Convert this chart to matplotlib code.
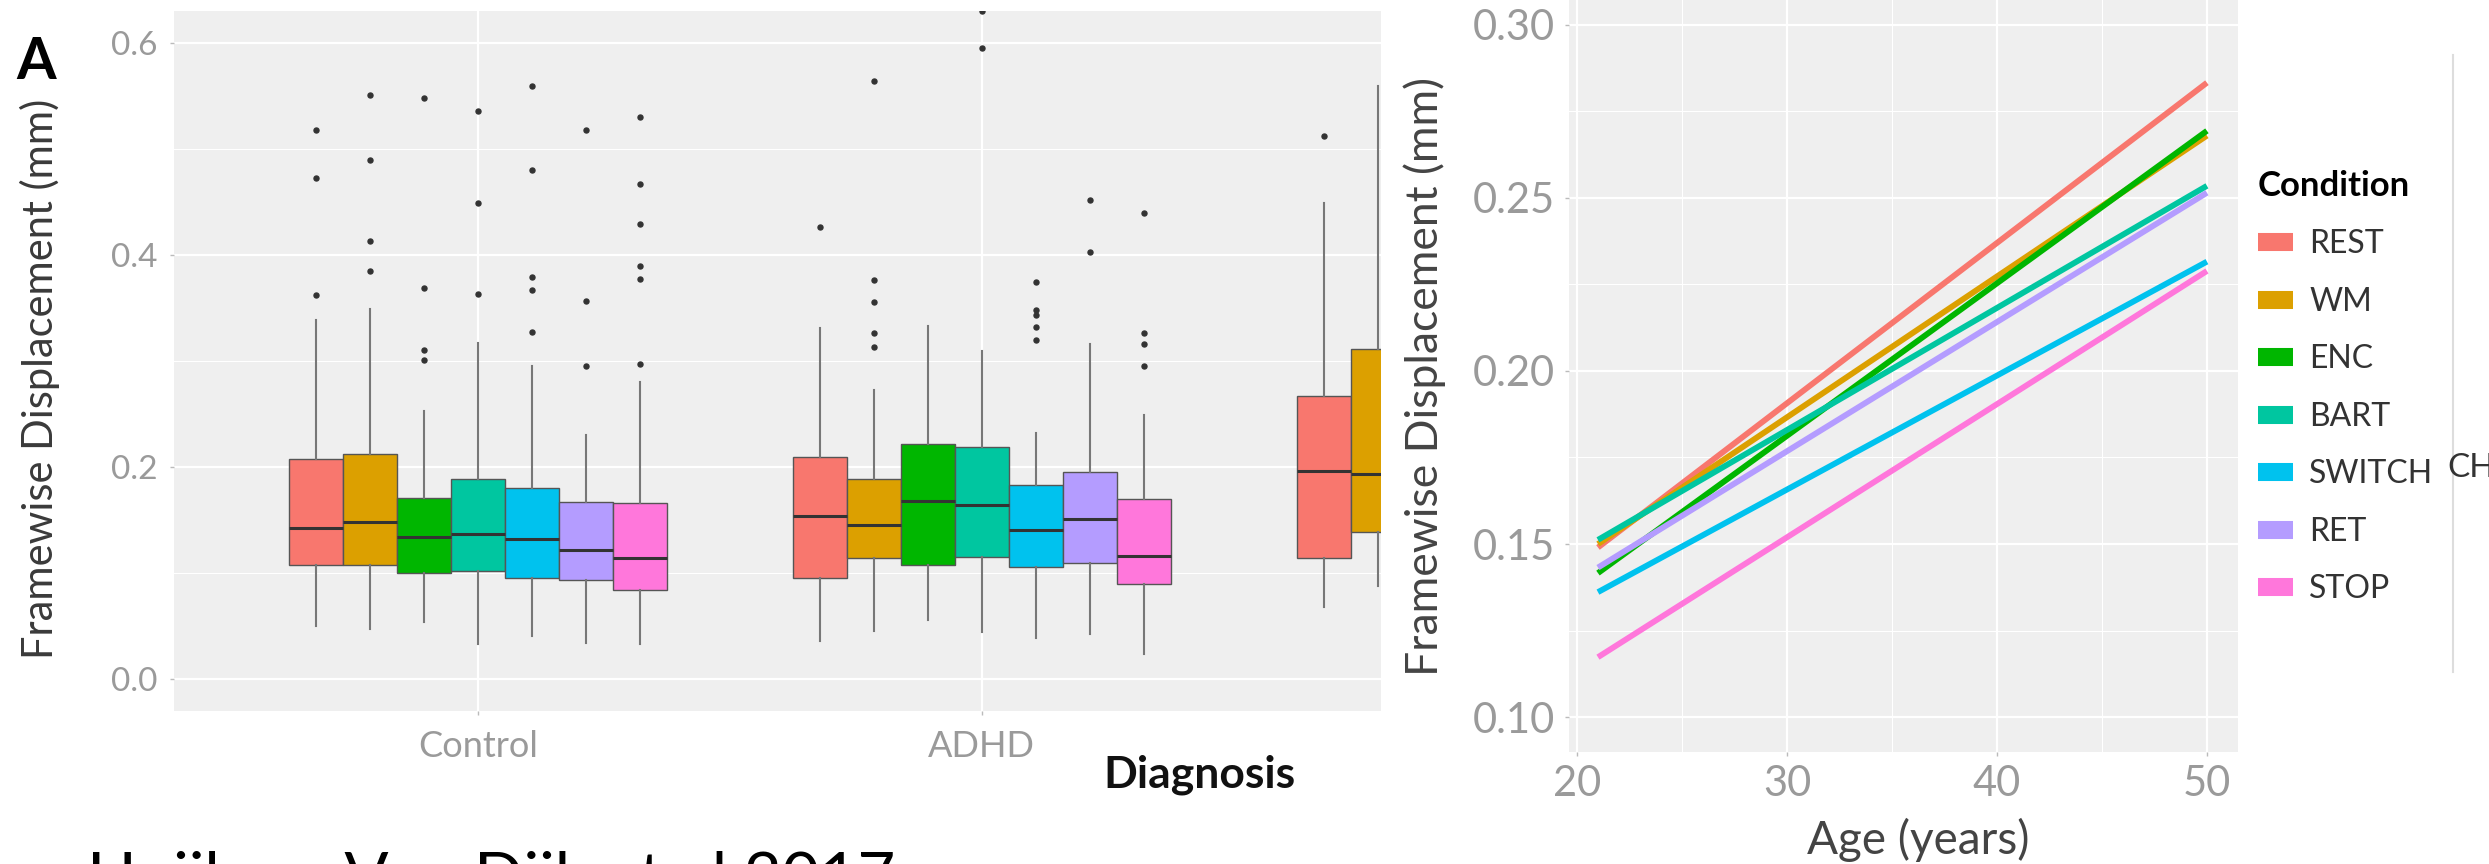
import numpy as np
import matplotlib.pyplot as plt
from matplotlib.lines import Line2D

plt.rcParams['font.family'] = ['Lato', 'DejaVu Sans']

W, H = 2489, 864

conditions = ['REST', 'WM', 'ENC', 'BART', 'SWITCH', 'RET', 'STOP']
colors = ['#F8776E', '#DCA000', '#00B600', '#00C6A0', '#00C2EE', '#B49CFF', '#FF77DB']
diagnoses = ['Control', 'ADHD', 'Bipolar']

# panel A, box statistics per condition
control_q1 = [0.108, 0.108, 0.100, 0.102, 0.095, 0.093, 0.084]
control_med = [0.142, 0.148, 0.134, 0.137, 0.132, 0.122, 0.114]
control_q3 = [0.208, 0.212, 0.171, 0.189, 0.180, 0.167, 0.166]
control_lo = [0.050, 0.047, 0.054, 0.033, 0.041, 0.034, 0.033]
control_hi = [0.339, 0.349, 0.253, 0.317, 0.295, 0.230, 0.280]
control_out = [[0.518, 0.473, 0.362],
               [0.551, 0.490, 0.413, 0.385],
               [0.548, 0.369, 0.310, 0.301],
               [0.536, 0.449, 0.363],
               [0.559, 0.480, 0.379, 0.367, 0.327],
               [0.518, 0.357, 0.295],
               [0.530, 0.467, 0.429, 0.390, 0.377, 0.297]]

adhd_q1 = [0.095, 0.114, 0.108, 0.115, 0.106, 0.109, 0.090]
adhd_med = [0.154, 0.145, 0.168, 0.164, 0.141, 0.151, 0.116]
adhd_q3 = [0.209, 0.189, 0.222, 0.219, 0.183, 0.195, 0.170]
adhd_lo = [0.036, 0.045, 0.056, 0.044, 0.039, 0.042, 0.024]
adhd_hi = [0.331, 0.273, 0.333, 0.309, 0.232, 0.316, 0.249]
adhd_out = [[0.426],
            [0.564, 0.376, 0.356, 0.326, 0.313],
            [],
            [0.630, 0.595],
            [0.375, 0.348, 0.343, 0.332, 0.320],
            [0.452, 0.403],
            [0.440, 0.326, 0.316, 0.295]]

# third group is cropped: only REST and WM show
third_q1 = [0.114, 0.139]
third_med = [0.196, 0.193]
third_q3 = [0.267, 0.311]
third_lo = [0.068, 0.088]
third_hi = [0.449, 0.559]
third_out = [[0.512], []]

# panel B, fitted lines at the ends of the age range
age_start, age_end = 21, 50
fd_start = [0.149, 0.150, 0.1416, 0.1512, 0.1361, 0.1432, 0.1173]
fd_end = [0.2833, 0.268, 0.2694, 0.2535, 0.2316, 0.2515, 0.2289]

fig = plt.figure(figsize=(W / 100, H / 100), dpi=100)

# ---- panel A: boxplots
axA = fig.add_axes([174 / W, (H - 711) / H, 1207 / W, 700 / H])
axA.set_facecolor('#EFEFEF')
bw = 0.75 / 7
groups = [(control_q1, control_med, control_q3, control_lo, control_hi, control_out),
          (adhd_q1, adhd_med, adhd_q3, adhd_lo, adhd_hi, adhd_out),
          (third_q1, third_med, third_q3, third_lo, third_hi, third_out)]
for g, (q1, med, q3, lo, hi, out) in enumerate(groups):
    for i in range(len(q1)):
        pos = g + 1 + (i - 3) * bw
        st = dict(q1=q1[i], med=med[i], q3=q3[i], whislo=lo[i], whishi=hi[i], fliers=out[i])
        axA.bxp([st], positions=[pos], widths=bw, patch_artist=True, showcaps=False,
                boxprops=dict(facecolor=colors[i], edgecolor='#555555', linewidth=1.0),
                medianprops=dict(color='#333333', linewidth=2.2),
                whiskerprops=dict(color='#777777', linewidth=1.5),
                flierprops=dict(marker='o', markersize=3.6, markerfacecolor='#333333',
                                markeredgecolor='#333333', linestyle='none'),
                manage_ticks=False, zorder=3)

axA.set_xticks([1, 2, 3], labels=diagnoses)
axA.set_yticks([0, 0.2, 0.4, 0.6], labels=['0.0', '0.2', '0.4', '0.6'])
axA.set_yticks([0.1, 0.3, 0.5], minor=True)
axA.set_xlim(0.397, 2.792)
axA.set_ylim(-0.0302, 0.6302)
axA.grid(which='major', color='white', linewidth=1.6, zorder=0)
axA.grid(which='minor', axis='y', color='white', linewidth=0.8, zorder=0)
axA.set_axisbelow(True)
for s in axA.spines.values():
    s.set_visible(False)
axA.tick_params(axis='y', which='major', labelsize=24, labelcolor='#9A9A9A',
                color='#BBBBBB', length=3, width=1, pad=9)
axA.tick_params(axis='x', which='major', labelsize=26, labelcolor='#9A9A9A',
                color='#BBBBBB', length=3, width=1, pad=11)
axA.tick_params(which='minor', length=0)

fig.text(40 / W, 1 - 379 / H, 'Framewise Displacement (mm)', rotation=90,
         ha='center', va='center', fontsize=30, color='#3A3A3A')
fig.text(1199 / W, 1 - 775 / H, 'Diagnosis', ha='center', va='center',
         fontsize=32, fontweight='bold', color='#111111')
fig.text(16 / W, 1 - 36 / H, 'A', ha='left', va='top', fontsize=41,
         fontweight='bold', color='black')
fig.text(87 / W, -34 / H, 'Huijbers Van Dijk et al 2017', ha='left',
         va='baseline', fontsize=47, color='black')

# ---- panel B: age trends
axB = fig.add_axes([1569 / W, (H - 752) / H, 669 / W, 752 / H])
axB.set_facecolor('#EFEFEF')
handles = []
for c, s0, s1, col in zip(conditions, fd_start, fd_end, colors):
    axB.plot([age_start, age_end], [s0, s1], color=col, lw=4.2,
             solid_capstyle='butt', zorder=3)
    handles.append(Line2D([0], [0], color=col, lw=13, solid_capstyle='butt'))

axB.set_xticks([20, 30, 40, 50])
axB.set_xticks([25, 35, 45], minor=True)
axB.set_yticks([0.10, 0.15, 0.20, 0.25, 0.30],
               labels=['0.10', '0.15', '0.20', '0.25', '0.30'])
axB.set_yticks([0.125, 0.175, 0.225, 0.275], minor=True)
axB.set_xlim(19.62, 51.48)
axB.set_ylim(0.0899, 0.3072)
axB.grid(which='major', color='white', linewidth=1.6, zorder=0)
axB.grid(which='minor', color='white', linewidth=0.8, zorder=0)
axB.set_axisbelow(True)
for s in axB.spines.values():
    s.set_visible(False)
axB.tick_params(which='major', labelsize=30, labelcolor='#9A9A9A',
                color='#BBBBBB', length=3, width=1)
axB.tick_params(axis='y', pad=7)
axB.tick_params(axis='x', pad=6)
axB.tick_params(which='minor', length=0)

fig.text(1425 / W, 1 - 376 / H, 'Framewise Displacement (mm)', rotation=90,
         ha='center', va='center', fontsize=32, color='#444444')
fig.text(1918 / W, 1 - 840 / H, 'Age (years)', ha='center', va='center',
         fontsize=33, color='#444444')

fig.legend(handles, conditions, title='Condition', loc='upper left',
           bbox_to_anchor=(2258 / W, 1 - 170 / H), frameon=False,
           fontsize=23, labelcolor='#333333', handlelength=1.1,
           handletextpad=0.5, labelspacing=0.86, borderpad=0,
           borderaxespad=0, alignment='left',
           title_fontproperties={'weight': 'bold', 'size': 25})

# cropped neighbour at the right edge
fig.add_artist(Line2D([2453 / W, 2453 / W], [1 - 55 / H, 1 - 672 / H],
                      color='#DDDDDD', lw=1.5))
fig.text(2447 / W, 1 - 468 / H, 'CH', ha='left', va='center', fontsize=24,
         color='#333333')

fig.savefig('out.png', dpi=100)
